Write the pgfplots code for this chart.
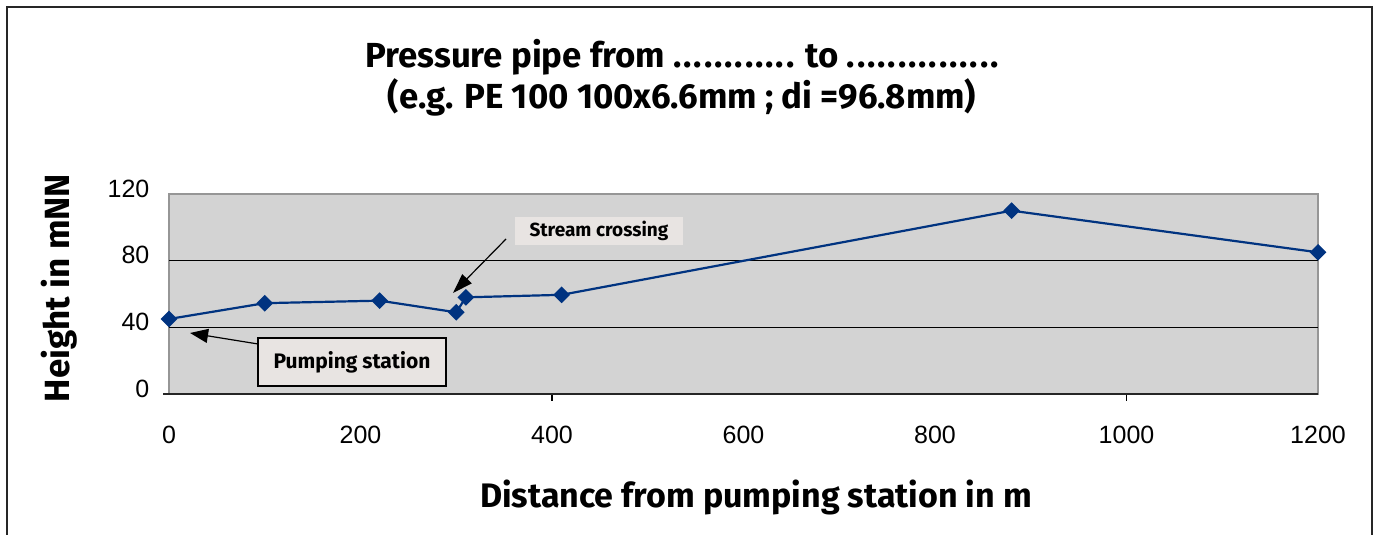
\documentclass[border=0pt]{standalone}
\usepackage{fontspec}
\setmainfont{Fira Sans}
\newfontfamily\arialf{Liberation Sans}
\usepackage{pgfplots}
\pgfplotsset{compat=1.18}
\usetikzlibrary{arrows.meta}
\definecolor{lineblue}{RGB}{0,51,128}
\definecolor{plotbg}{RGB}{211,211,211}
\definecolor{boxfill}{RGB}{232,228,226}
\definecolor{bordergray}{RGB}{150,150,150}
\newcommand\dt{.\kern0.95pt}
\begin{document}
\begin{tikzpicture}[x=1pt,y=1pt]
\useasboundingbox (0,0) rectangle (687.5,267.5);
\draw[line width=1pt, black!85] (3.5,-2) -- (3.5,264) -- (686,264) -- (686,-2);
\node[font=\bfseries\fontsize{17.4}{20}\selectfont, anchor=base] at (341,233.8) {Pressure pipe from \dt\dt\dt\dt\dt\dt\dt\dt\dt\dt\dt. to \dt\dt\dt\dt\dt\dt\dt\dt\dt\dt\dt\dt\dt\dt.};
\node[font=\bfseries\fontsize{17.4}{20}\selectfont, anchor=base] at (341,213) {(e.g. PE 100 100x6.6mm ; di =96.8mm)};
\node[rotate=90, font=\bfseries\fontsize{17.5}{20}\selectfont] at (29.5,123.5) {Height in mNN};
\node[anchor=base, font=\bfseries\fontsize{17}{20}\selectfont] at (378,13.5) {Distance from pumping station in m};
\begin{axis}[
  at={(84.5pt,70.5pt)}, anchor=south west,
  width=574.5pt, height=100pt, scale only axis,
  xmin=0, xmax=1200, ymin=0, ymax=120,
  xtick={0,200,...,1200}, ytick={0,40,80,120},
  xtick pos=bottom,
  major tick length=0pt,
  axis background/.style={fill=plotbg},
  axis line style={bordergray, line width=1pt},
  ticklabel style={font=\arialf\fontsize{12.5}{14}\selectfont},
  /pgf/number format/assume math mode=true,
  /pgf/number format/1000 sep={},
  yticklabel style={xshift=-6.3pt, yshift=2.75pt},
  xticklabel style={yshift=-12.3pt},
  extra x ticks={400,1000}, extra x tick labels={{},{}},
  extra x tick style={major tick length=3.5pt, tick align=outside, tick style={black,line width=0.6pt}},
  clip=false,
]
\draw[black, line width=0.75pt] (axis cs:0,40) -- (axis cs:1200,40);
\draw[black, line width=0.75pt] (axis cs:0,80) -- (axis cs:1200,80);
\addplot[lineblue, line width=1.1pt, mark=square*, mark size=2.4pt, mark options={rotate=45, fill=lineblue, draw=lineblue}] table {
x y
0 45
100 54.5
220 56
300 49
310 58
410 59.5
880 110
1200 85
};
\draw[black!85, line width=1pt] ([xshift=-3pt]axis cs:0,0) -- (axis cs:1200,0);
\node[fill=boxfill, minimum width=84pt, minimum height=14pt, inner sep=0pt, font=\bfseries\fontsize{9.5}{11}\selectfont] at (axis cs:449,97.8) {Stream crossing};
\draw[black, line width=0.6pt, -{Triangle[length=10pt,width=6.5pt]}] (axis cs:352,93) -- (axis cs:296.6,60.6);
\node[fill=boxfill, draw=black, line width=1pt, minimum width=94pt, minimum height=24pt, inner sep=0pt, font=\bfseries\fontsize{10.5}{12}\selectfont] at (axis cs:191.1,19.2) {Pumping station};
\draw[black, line width=0.6pt, -{Triangle[length=9pt,width=7pt]}] (axis cs:93,30) -- (axis cs:22,36.6);
\end{axis}
\end{tikzpicture}
\end{document}
